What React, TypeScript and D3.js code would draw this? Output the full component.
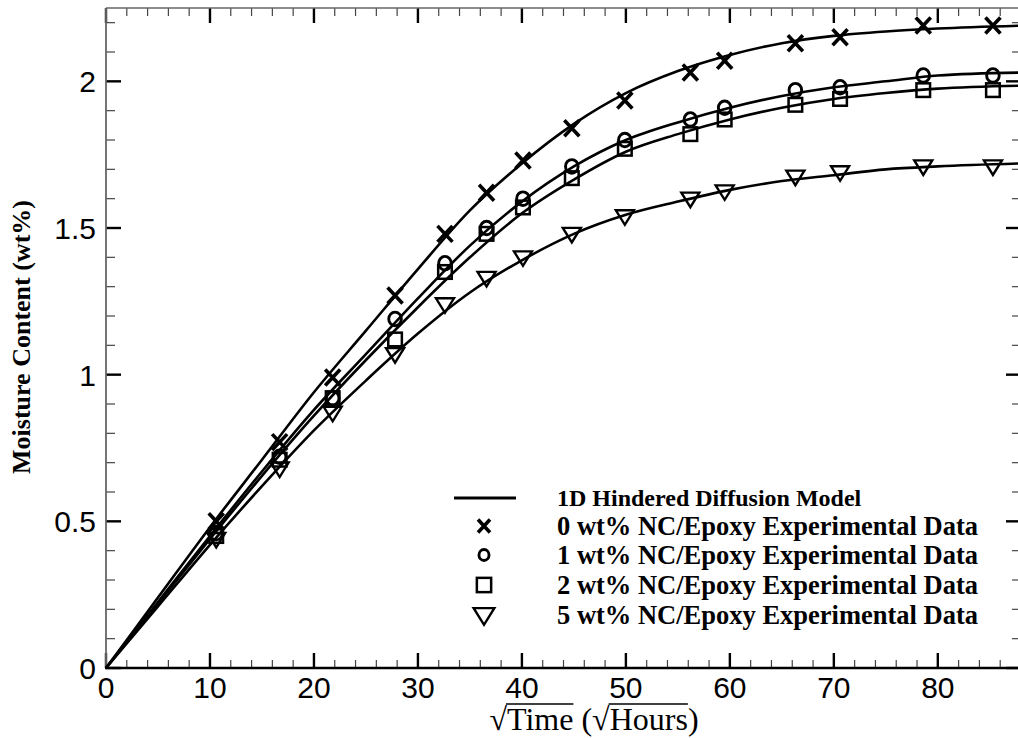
import { useRef, useEffect } from 'react';
import * as d3 from 'd3';

// model curves
const modelX = [0, 5, 10, 15, 20, 25, 30, 35, 40, 45, 50, 55, 60, 65, 70, 75, 80, 88];
const model0 = [0, 0.24, 0.48, 0.71, 0.94, 1.15, 1.36, 1.56, 1.72, 1.855, 1.96, 2.035, 2.09, 2.13, 2.155, 2.17, 2.18, 2.19];
const model1 = [0, 0.225, 0.45, 0.67, 0.88, 1.07, 1.26, 1.44, 1.59, 1.71, 1.8, 1.86, 1.91, 1.95, 1.98, 2.0, 2.02, 2.03];
const model2 = [0, 0.22, 0.44, 0.655, 0.86, 1.05, 1.23, 1.4, 1.55, 1.665, 1.76, 1.82, 1.87, 1.91, 1.94, 1.96, 1.975, 1.985];
const model5 = [0, 0.21, 0.42, 0.62, 0.81, 0.98, 1.14, 1.28, 1.39, 1.48, 1.545, 1.59, 1.63, 1.66, 1.68, 1.7, 1.71, 1.72];

// experimental points
const expX = [10.6, 16.7, 21.8, 27.8, 32.6, 36.6, 40.1, 44.8, 49.9, 56.2, 59.5, 66.3, 70.6, 78.6, 85.3];
const exp0 = [0.5, 0.77, 0.99, 1.27, 1.48, 1.62, 1.73, 1.84, 1.935, 2.03, 2.07, 2.13, 2.15, 2.19, 2.19];
const exp1 = [0.46, 0.72, 0.92, 1.19, 1.38, 1.5, 1.6, 1.71, 1.8, 1.87, 1.91, 1.97, 1.98, 2.02, 2.02];
const exp2 = [0.45, 0.71, 0.92, 1.12, 1.35, 1.48, 1.57, 1.67, 1.77, 1.82, 1.87, 1.92, 1.94, 1.97, 1.97];
const exp5 = [0.44, 0.68, 0.87, 1.07, 1.24, 1.33, 1.4, 1.48, 1.54, 1.6, 1.625, 1.675, 1.69, 1.71, 1.71];

const xMajor = [0, 10, 20, 30, 40, 50, 60, 70, 80];
const yMajor = [0, 0.5, 1, 1.5, 2];
const yTickLabels = ['0', '0.5', '1', '1.5', '2'];

const legendLabels = [
  '1D Hindered Diffusion Model',
  '0 wt% NC/Epoxy Experimental Data',
  '1 wt% NC/Epoxy Experimental Data',
  '2 wt% NC/Epoxy Experimental Data',
  '5 wt% NC/Epoxy Experimental Data',
];

type Marker = 'x' | 'o' | 's' | 't';

function drawMarker(g: any, kind: Marker, cx: number, cy: number, scale = 1) {
  if (kind === 'x') {
    const w = 7.5 * scale;
    const h = 8 * scale;
    g.append('path')
      .attr('d', `M${cx - w},${cy - h}L${cx + w},${cy + h}M${cx + w},${cy - h}L${cx - w},${cy + h}`)
      .attr('stroke', '#000')
      .attr('stroke-width', 3.6)
      .attr('fill', 'none');
  } else if (kind === 'o') {
    g.append('ellipse')
      .attr('cx', cx)
      .attr('cy', cy)
      .attr('rx', 6.3 * scale)
      .attr('ry', 6.8 * scale)
      .attr('stroke', '#000')
      .attr('stroke-width', 2.9)
      .attr('fill', 'none');
  } else if (kind === 's') {
    const s = 6.8 * scale;
    g.append('rect')
      .attr('x', cx - s)
      .attr('y', cy - s)
      .attr('width', 2 * s)
      .attr('height', 2 * s)
      .attr('stroke', '#000')
      .attr('stroke-width', 2.5)
      .attr('fill', 'none');
  } else {
    const w = 9 * scale;
    g.append('path')
      .attr('d', `M${cx - w},${cy - 6 * scale}L${cx + w},${cy - 6 * scale}L${cx},${cy + 8.5 * scale}Z`)
      .attr('stroke', '#000')
      .attr('stroke-width', 2.4)
      .attr('stroke-linejoin', 'miter')
      .attr('fill', 'none');
  }
}

function Chart() {
  const svgRef = useRef<SVGSVGElement>(null);

  useEffect(() => {
    const svg = d3.select(svgRef.current);
    svg.selectAll('*').remove();

    const left = 106;
    const right = 1021;
    const top = 8;
    const bottom = 668;

    const x = d3.scaleLinear().domain([0, 88]).range([left, right]);
    const y = d3.scaleLinear().domain([0, 2.25]).range([bottom, top]);

    const axes = svg.append('g');
    const xMinor = d3.range(0, 89, 2).filter((v) => v % 10 !== 0);
    const yMinor = d3.range(0, 23).map((v) => v / 10).filter((v) => Math.round(v * 10) % 5 !== 0);

    // minor ticks
    xMinor.forEach((v) => {
      axes.append('line').attr('x1', x(v)).attr('x2', x(v)).attr('y1', bottom).attr('y2', bottom - 8)
        .attr('stroke', '#444').attr('stroke-width', 1.2);
      axes.append('line').attr('x1', x(v)).attr('x2', x(v)).attr('y1', top).attr('y2', top + 8)
        .attr('stroke', '#444').attr('stroke-width', 1.2);
    });
    yMinor.forEach((v) => {
      axes.append('line').attr('x1', left).attr('x2', left + 9).attr('y1', y(v)).attr('y2', y(v))
        .attr('stroke', '#444').attr('stroke-width', 1.2);
      axes.append('line').attr('x1', right).attr('x2', right - 9).attr('y1', y(v)).attr('y2', y(v))
        .attr('stroke', '#444').attr('stroke-width', 1.2);
    });
    // major ticks
    xMajor.forEach((v) => {
      axes.append('line').attr('x1', x(v)).attr('x2', x(v)).attr('y1', bottom).attr('y2', bottom - 15)
        .attr('stroke', '#000').attr('stroke-width', 2.4);
      axes.append('line').attr('x1', x(v)).attr('x2', x(v)).attr('y1', top).attr('y2', top + 15)
        .attr('stroke', '#000').attr('stroke-width', 2.4);
    });
    yMajor.forEach((v) => {
      axes.append('line').attr('x1', left).attr('x2', left + 15).attr('y1', y(v)).attr('y2', y(v))
        .attr('stroke', '#000').attr('stroke-width', 2.4);
      axes.append('line').attr('x1', right).attr('x2', right - 15).attr('y1', y(v)).attr('y2', y(v))
        .attr('stroke', '#000').attr('stroke-width', 2.4);
    });

    // frame
    axes.append('line').attr('x1', left).attr('x2', right).attr('y1', top).attr('y2', top)
      .attr('stroke', '#666').attr('stroke-width', 1.5);
    axes.append('line').attr('x1', left).attr('x2', left).attr('y1', top).attr('y2', bottom)
      .attr('stroke', '#666').attr('stroke-width', 1.8);
    axes.append('line').attr('x1', left - 1).attr('x2', right).attr('y1', bottom).attr('y2', bottom)
      .attr('stroke', '#000').attr('stroke-width', 2.4);

    // tick labels
    axes.selectAll('.xl').data(xMajor).enter().append('text')
      .attr('x', (d) => x(d)).attr('y', bottom + 30)
      .attr('text-anchor', 'middle')
      .attr('font-family', 'Liberation Sans, Arial, sans-serif')
      .attr('font-size', 30)
      .text((d) => String(d));
    axes.selectAll('.yl').data(yMajor).enter().append('text')
      .attr('x', left - 10).attr('y', (d) => y(d) + 11)
      .attr('text-anchor', 'end')
      .attr('font-family', 'Liberation Sans, Arial, sans-serif')
      .attr('font-size', 30)
      .text((d, i) => yTickLabels[i]);

    // x axis title with radical bars drawn over the words
    const titleBase = 730;
    const xt = svg.append('text')
      .attr('x', 594).attr('y', titleBase)
      .attr('text-anchor', 'middle')
      .attr('font-family', 'Liberation Serif, Times New Roman, serif')
      .attr('font-size', 32);
    xt.append('tspan').text('√');
    const w1 = xt.append('tspan').text('Time');
    xt.append('tspan').text(' (√');
    const w2 = xt.append('tspan').text('Hours');
    xt.append('tspan').text(')');
    [w1, w2].forEach((t) => {
      const node = t.node() as any;
      const x0 = node.getStartPositionOfChar(0).x;
      const len = node.getComputedTextLength();
      svg.append('line')
        .attr('x1', x0 - 1).attr('x2', x0 + len)
        .attr('y1', titleBase - 26).attr('y2', titleBase - 26)
        .attr('stroke', '#000').attr('stroke-width', 1.6);
    });

    svg.append('text')
      .attr('transform', `translate(30, 337) rotate(-90)`)
      .attr('text-anchor', 'middle')
      .attr('font-family', 'Liberation Serif, Times New Roman, serif')
      .attr('font-weight', 'bold')
      .attr('font-size', 26)
      .text('Moisture Content (wt%)');

    // model curves
    const line = d3.line<number>()
      .x((d, i) => x(modelX[i]))
      .y((d) => y(d))
      .curve(d3.curveMonotoneX);
    const plot = svg.append('g');
    [model0, model1, model2, model5].forEach((m) => {
      plot.append('path').attr('d', line(m)).attr('fill', 'none')
        .attr('stroke', '#000').attr('stroke-width', 2.6);
    });

    // experimental markers
    const sets: [number[], Marker][] = [[exp5, 't'], [exp2, 's'], [exp1, 'o'], [exp0, 'x']];
    sets.forEach(([vals, kind]) => {
      vals.forEach((v, i) => drawMarker(plot, kind, x(expX[i]), y(v)));
    });

    // legend
    const lg = svg.append('g');
    const rowY = [498, 526, 555, 585, 615];
    lg.append('line').attr('x1', 454).attr('x2', 516).attr('y1', rowY[0]).attr('y2', rowY[0])
      .attr('stroke', '#000').attr('stroke-width', 2.8);
    const kinds: Marker[] = ['x', 'o', 's', 't'];
    kinds.forEach((k, i) => drawMarker(lg, k, 484, rowY[i + 1], k === 't' ? 1.15 : k === 's' ? 1.05 : 0.8));
    legendLabels.forEach((t, i) => {
      lg.append('text')
        .attr('x', 557).attr('y', rowY[i] + (i === 0 ? 8 : 9))
        .attr('font-family', 'Liberation Serif, Times New Roman, serif')
        .attr('font-weight', 'bold')
        .attr('font-size', i === 0 ? 24 : 26.5)
        .text(t);
    });

    return () => {
      svg.selectAll('*').remove();
    };
  }, []);

  return (
    <svg
      ref={svgRef}
      width={1018}
      height={738}
      style={{ position: 'absolute', left: 0, top: 0, background: '#fff' }}
    />
  );
}

export default function App() {
  return <Chart />;
}
